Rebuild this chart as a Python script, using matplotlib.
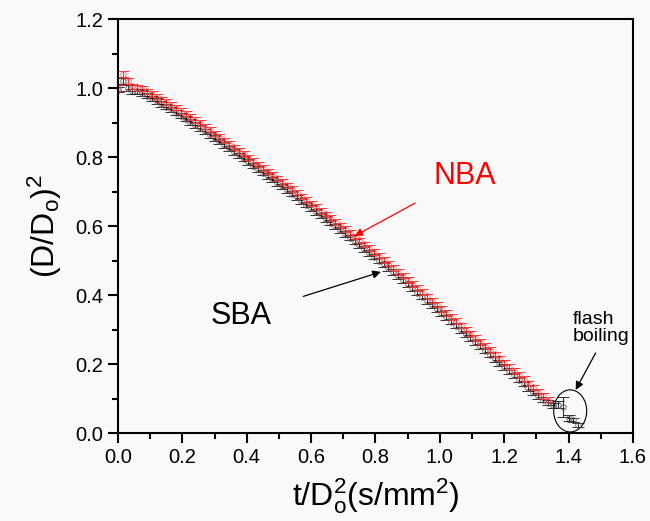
import numpy as np
import matplotlib
matplotlib.use('Agg')
from matplotlib import pyplot as plt
from matplotlib.patches import Ellipse
from matplotlib.ticker import MultipleLocator

plt.rcParams['font.family'] = ['Liberation Sans', 'DejaVu Sans']

# normalised time t/Do^2 (s/mm^2), sampled every 0.015
t_nba = np.arange(90) * 0.015
t_sba = np.arange(91) * 0.015

# squared diameter ratio (D/Do)^2, NBA droplet
d2_nba = [1.000, 1.040, 1.020, 1.005, 1.000, 0.998, 0.990, 0.983, 0.975, 0.967,
          0.960, 0.951, 0.943, 0.934, 0.925, 0.916, 0.907, 0.898, 0.888, 0.878,
          0.868, 0.858, 0.848, 0.838, 0.828, 0.818, 0.808, 0.798, 0.788, 0.778,
          0.768, 0.758, 0.748, 0.738, 0.728, 0.718, 0.707, 0.697, 0.686, 0.676,
          0.665, 0.655, 0.644, 0.634, 0.623, 0.612, 0.602, 0.591, 0.580, 0.569,
          0.558, 0.547, 0.536, 0.525, 0.514, 0.502, 0.491, 0.479, 0.467, 0.456,
          0.444, 0.432, 0.420, 0.408, 0.396, 0.384, 0.372, 0.360, 0.348, 0.336,
          0.324, 0.312, 0.300, 0.288, 0.276, 0.264, 0.252, 0.240, 0.228, 0.216,
          0.204, 0.192, 0.180, 0.168, 0.156, 0.144, 0.132, 0.120, 0.108, 0.097]

# squared diameter ratio (D/Do)^2, SBA droplet
d2_sba = [0.995, 1.020, 1.000, 0.990, 0.990, 0.985, 0.978, 0.970, 0.962, 0.954,
          0.946, 0.938, 0.929, 0.920, 0.911, 0.902, 0.893, 0.884, 0.874, 0.864,
          0.855, 0.845, 0.835, 0.825, 0.815, 0.805, 0.795, 0.785, 0.775, 0.765,
          0.755, 0.745, 0.735, 0.725, 0.715, 0.704, 0.694, 0.683, 0.673, 0.662,
          0.652, 0.641, 0.631, 0.620, 0.610, 0.599, 0.588, 0.577, 0.566, 0.555,
          0.544, 0.533, 0.522, 0.511, 0.500, 0.489, 0.477, 0.466, 0.454, 0.443,
          0.431, 0.419, 0.407, 0.395, 0.383, 0.371, 0.359, 0.347, 0.335, 0.323,
          0.311, 0.299, 0.287, 0.275, 0.263, 0.251, 0.239, 0.227, 0.215, 0.203,
          0.191, 0.179, 0.167, 0.155, 0.143, 0.131, 0.119, 0.108, 0.097, 0.088,
          0.080]

# SBA points after the onset of flash boiling
t_flash = [1.368, 1.382, 1.400, 1.413, 1.428]
d2_flash = [0.082, 0.075, 0.043, 0.038, 0.023]
err_flash = [0.010, 0.030, 0.008, 0.006, 0.006]

d2_err = 0.008

fig = plt.figure(figsize=(6.5, 5.21), dpi=100, facecolor='#f9f9f9')
ax = fig.add_axes([0.1815, 0.1689, 0.7923, 0.7946])
ax.set_facecolor('#f9f9f9')

# SBA in black underneath, NBA in red on top
ax.errorbar(t_sba, d2_sba, yerr=d2_err, fmt='o', ms=4, mfc='none', mec='#555555',
            mew=0.7, ecolor='black', elinewidth=0.8, capsize=4, capthick=0.8, alpha=0.8)
ax.errorbar(t_flash, d2_flash, yerr=err_flash, fmt='o', ms=4, mfc='none', mec='#555555',
            mew=0.7, ecolor='black', elinewidth=0.8, capsize=4, capthick=0.8, alpha=0.8)
ax.errorbar(t_nba, d2_nba, yerr=d2_err, fmt='o', ms=4, mfc='none', mec='#ff6060',
            mew=0.7, ecolor='red', elinewidth=0.8, capsize=4, capthick=0.8, alpha=0.8)

ax.annotate('NBA', xy=(0.735, 0.571), xytext=(1.078, 0.745), color='red', fontsize=22,
            ha='center', va='center',
            arrowprops=dict(arrowstyle='-|>', color='red', lw=0.9, mutation_scale=12,
                            shrinkA=14, shrinkB=0))
ax.annotate('SBA', xy=(0.817, 0.467), xytext=(0.382, 0.339), color='black', fontsize=22,
            ha='center', va='center',
            arrowprops=dict(arrowstyle='-|>', color='black', lw=0.9, mutation_scale=12,
                            shrinkA=22, shrinkB=0))

# circle round the flash boiling points
ax.add_patch(Ellipse((1.405, 0.064), 0.1025, 0.122, fill=False, edgecolor='black', lw=0.8))
ax.text(1.413, 0.355, 'flash\nboiling', fontsize=14, ha='left', va='top', linespacing=1.05)
ax.annotate('', xy=(1.422, 0.125), xytext=(1.484, 0.232),
            arrowprops=dict(arrowstyle='-|>', color='black', lw=0.9, mutation_scale=12,
                            shrinkA=0, shrinkB=0))

ax.set_xlim(0.0, 1.6)
ax.set_ylim(0.0, 1.2)
ax.xaxis.set_major_locator(MultipleLocator(0.2))
ax.xaxis.set_minor_locator(MultipleLocator(0.1))
ax.yaxis.set_major_locator(MultipleLocator(0.2))
ax.yaxis.set_minor_locator(MultipleLocator(0.1))
ax.xaxis.set_major_formatter(plt.FormatStrFormatter('%.1f'))
ax.yaxis.set_major_formatter(plt.FormatStrFormatter('%.1f'))
ax.tick_params(which='both', direction='out', width=1.5, labelsize=14.5, top=False, right=False)
ax.tick_params(which='major', length=7)
ax.tick_params(which='minor', length=4)
for s in ax.spines.values():
    s.set_linewidth(1.5)

ax.set_xlabel(r'$\mathregular{t/D_o^2(s/mm^2)}$', fontsize=23, labelpad=7)
ax.set_ylabel(r'$\mathregular{(D/D_o)^2}$', fontsize=23, labelpad=8)

plt.savefig('out.png', dpi=100, facecolor=fig.get_facecolor())
